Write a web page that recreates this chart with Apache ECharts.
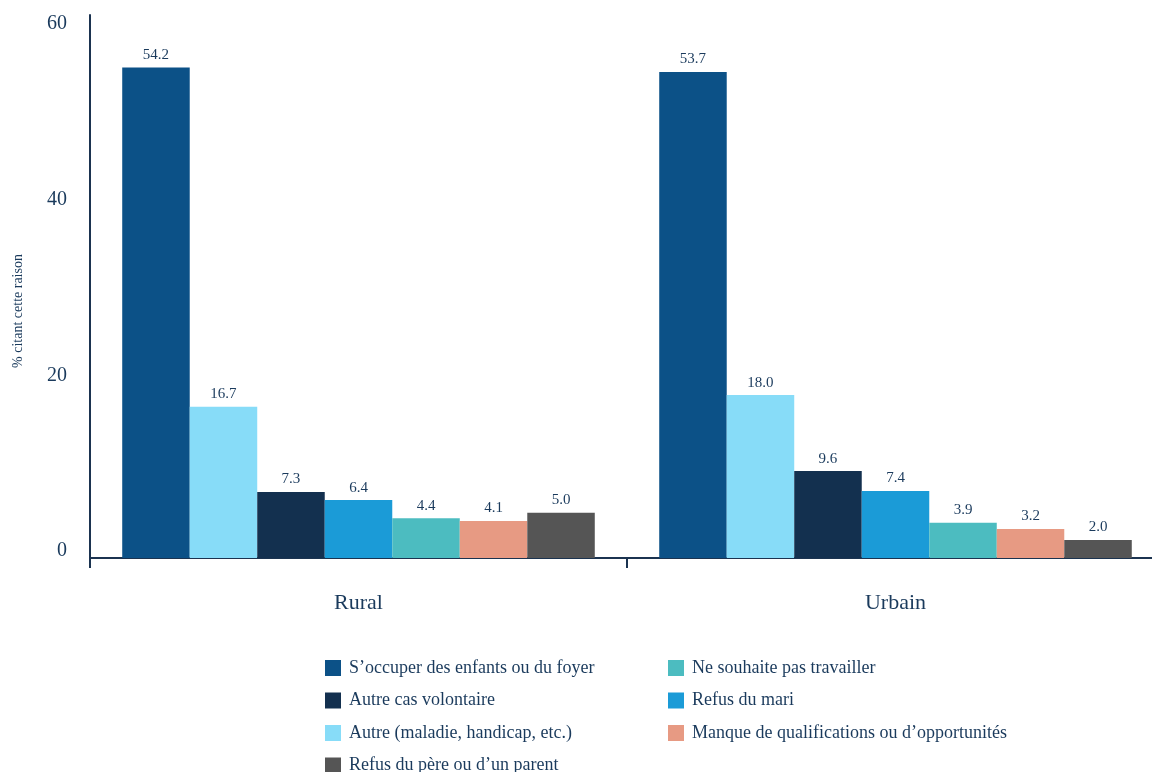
<!DOCTYPE html>
<html>
<head>
<meta charset="utf-8">
<script src="https://cdn.jsdelivr.net/npm/echarts@6/dist/echarts.min.js"></script>
<style>html,body{margin:0;padding:0;background:#fff}#c{width:1152px;height:772px}</style>
</head>
<body>
<div id="c"></div>
<script>
const categories = ['Rural', 'Urbain'];
const yTicks = [0, 20, 40, 60];
const seriesNames = [
  'S\u2019occuper des enfants ou du foyer',
  'Autre (maladie, handicap, etc.)',
  'Autre cas volontaire',
  'Refus du mari',
  'Ne souhaite pas travailler',
  'Manque de qualifications ou d\u2019opportunités',
  'Refus du père ou d\u2019un parent'
];
const occuper = [54.2, 53.7];
const autreMaladie = [16.7, 18.0];
const autreVolontaire = [7.3, 9.6];
const refusMari = [6.4, 7.4];
const neSouhaite = [4.4, 3.9];
const manque = [4.1, 3.2];
const refusPere = [5.0, 2.0];
const seriesValues = [occuper, autreMaladie, autreVolontaire, refusMari, neSouhaite, manque, refusPere];
const colors = ['#0c5187', '#87dcf8', '#13304f', '#1b9bd7', '#4cbcc0', '#e79a83', '#555555'];

const FONT = '"Liberation Serif", "DejaVu Serif", serif';
const TXT = '#1a3a5c';
const AX = '#1b3350';

const chart = echarts.init(document.getElementById('c'), null, {renderer: 'canvas'});
const series = seriesNames.map((n, i) => ({
  name: n,
  type: 'bar',
  xAxisIndex: 0,
  yAxisIndex: 0,
  data: seriesValues[i],
  barGap: '0%',
  barCategoryGap: '12%',
  itemStyle: {color: colors[i]},
  label: {
    show: true, position: 'top', distance: 5,
    formatter: p => p.value.toFixed(1),
    fontFamily: FONT, fontSize: 15, color: TXT
  }
}));

// legend layout: [series index, column, row]
const legendSlots = [[0, 0, 0], [4, 1, 0], [2, 0, 1], [3, 1, 1], [1, 0, 2], [5, 1, 2], [6, 0, 3]];
const colX = [325, 668];
const legends = legendSlots.map(([si, col, row]) => ({
  orient: 'horizontal', left: colX[col], top: 659 + row * 32.5, padding: 0,
  itemWidth: 16, itemHeight: 16, icon: 'rect',
  data: [seriesNames[si]],
  textStyle: {fontFamily: FONT, fontSize: 18, color: TXT, lineHeight: 18, padding: [0, 0, 0, 3]}
}));

chart.setOption({
  animation: false,
  backgroundColor: '#fff',
  grid: [
    {left: 90, top: 15, height: 543, width: 1074, containLabel: false, outerBoundsMode: 'none'},
    {left: 90, top: 24, height: 527, width: 1074, containLabel: false, outerBoundsMode: 'none'}
  ],
  xAxis: [
    {
      type: 'category', gridIndex: 0, data: categories,
      axisLine: {show: true, lineStyle: {color: AX, width: 2}},
      axisTick: {show: true, length: 10, lineStyle: {color: AX, width: 2}},
      axisLabel: {fontFamily: FONT, fontSize: 22, color: TXT, margin: 34}
    },
    {
      type: 'category', gridIndex: 1, data: categories, show: false
    }
  ],
  yAxis: [
    {
      type: 'value', gridIndex: 0, min: 0, max: 60, interval: 20,
      axisLine: {show: true, lineStyle: {color: AX, width: 2}},
      axisTick: {show: false},
      axisLabel: {show: false},
      splitLine: {show: false}
    },
    {
      type: 'value', gridIndex: 1, min: 0, max: 60, interval: 20,
      axisLine: {show: false},
      axisTick: {show: false},
      splitLine: {show: false},
      axisLabel: {show: true, fontFamily: FONT, fontSize: 20, color: TXT, margin: 23,
        formatter: v => (yTicks.indexOf(v) >= 0 ? String(v) : '')}
    }
  ],
  legend: legends,
  graphic: [{
    type: 'text', x: 18, y: 311, rotation: Math.PI / 2,
    style: {text: '% citant cette raison', fontFamily: FONT, fontSize: 14, fill: TXT,
      textAlign: 'center', textVerticalAlign: 'middle'}
  }],
  series: series
});
</script>
</body>
</html>
